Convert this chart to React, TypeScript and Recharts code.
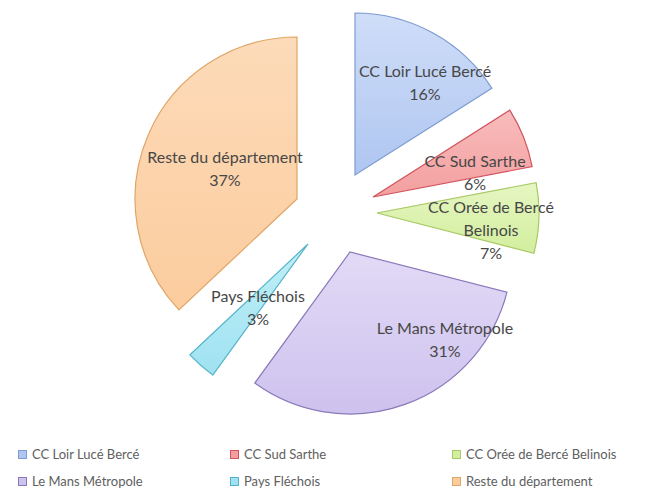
import { Cell, Legend, Pie, PieChart } from "recharts";

const communes = [
  "CC Loir Lucé Bercé",
  "CC Sud Sarthe",
  "CC Orée de Bercé Belinois",
  "Le Mans Métropole",
  "Pays Fléchois",
  "Reste du département",
];
const shares = [16, 6, 7, 31, 3, 37];
// label text inside each slice, wrapped the way the slice allows
const sliceLabels = [
  ["CC Loir Lucé Bercé"],
  ["CC Sud Sarthe"],
  ["CC Orée de Bercé", "Belinois"],
  ["Le Mans Métropole"],
  ["Pays Fléchois"],
  ["Reste du département"],
];

const W = 660;
const H = 496;
const R = 162;
const FONT = "Lato, 'Open Sans', sans-serif";

// centre of each exploded slice
const centres: [number, number][] = [
  [355, 175],
  [373, 197],
  [377, 213],
  [350, 252],
  [308, 244],
  [297, 199],
];
// label block position relative to its slice centre
const labelOffsets: [number, number][] = [
  [70, -94],
  [102, -26],
  [114, 16],
  [95, 86],
  [-50, 62],
  [-72, -32],
];

const palette = [
  { light: "#cfddf8", dark: "#afc6f1", line: "#7d9cd2" },
  { light: "#f9bcbc", dark: "#f39f9f", line: "#d0555d" },
  { light: "#e6f6c2", dark: "#d2ee9e", line: "#a8c965" },
  { light: "#e2daf6", dark: "#cec2ee", line: "#8a79b9" },
  { light: "#c0eff7", dark: "#a0e2f1", line: "#55b3c9" },
  { light: "#fddbb9", dark: "#fbcc9e", line: "#e0a567" },
];

const rows = communes.map((name, i) => ({ name, value: shares[i] }));

function sliceLabel(target: number) {
  return (props: any) => {
    if (props.index !== target) return <g />;
    const [dx, dy] = labelOffsets[target];
    const lines = [...sliceLabels[target], `${Math.round(props.percent * 100)}%`];
    const lh = 23;
    const x = props.cx + dx;
    const y0 = props.cy + dy - ((lines.length - 1) * lh) / 2;
    return (
      <text x={x} y={y0} textAnchor="middle" dominantBaseline="central" fill="#474747" fontSize={16} fontFamily={FONT}>
        {lines.map((t, k) => (
          <tspan key={k} x={x} y={y0 + k * lh}>
            {t}
          </tspan>
        ))}
      </text>
    );
  };
}

const legendCols = [18, 230, 452];

function renderLegend() {
  return (
    <div style={{ position: "relative", width: W, height: 56, fontFamily: FONT, fontSize: 13, color: "#606060" }}>
      {communes.map((name, i) => {
        const left = legendCols[i % 3];
        const top = i < 3 ? 14 : 41;
        const c = palette[i];
        return (
          <div key={name} style={{ position: "absolute", left, top: top - 8, height: 16, display: "flex", alignItems: "center", whiteSpace: "nowrap" }}>
            <span
              style={{
                display: "inline-block",
                width: 7,
                height: 7,
                border: `1px solid ${c.line}`,
                background: c.dark,
                marginRight: 5,
              }}
            />
            {name}
          </div>
        );
      })}
    </div>
  );
}

export default function App() {
  return (
    <div style={{ position: "fixed", left: 0, top: 0, width: W, height: H, background: "#fff" }}>
      <PieChart width={W} height={H} margin={{ top: 0, right: 0, bottom: 0, left: 0 }}>
        <defs>
          {palette.map((c, i) => (
            <linearGradient key={i} id={`slice${i}`} x1="0" y1="0" x2="0" y2="1">
              <stop offset="0%" stopColor={c.light} />
              <stop offset="100%" stopColor={c.dark} />
            </linearGradient>
          ))}
        </defs>
        {centres.map(([cx, cy], i) => (
          <Pie
            key={i}
            data={rows}
            dataKey="value"
            nameKey="name"
            cx={cx}
            cy={cy}
            outerRadius={R}
            startAngle={90}
            endAngle={-270}
            isAnimationActive={false}
            labelLine={false}
            label={sliceLabel(i)}
          >
            {rows.map((r, j) => (
              <Cell
                key={r.name}
                fill={j === i ? `url(#slice${i})` : "transparent"}
                stroke={j === i ? palette[i].line : "none"}
                strokeWidth={1.2}
              />
            ))}
          </Pie>
        ))}
        <Legend
          verticalAlign="bottom"
          content={renderLegend}
          wrapperStyle={{ left: 0, top: 440, bottom: "auto", width: W }}
        />
      </PieChart>
    </div>
  );
}
